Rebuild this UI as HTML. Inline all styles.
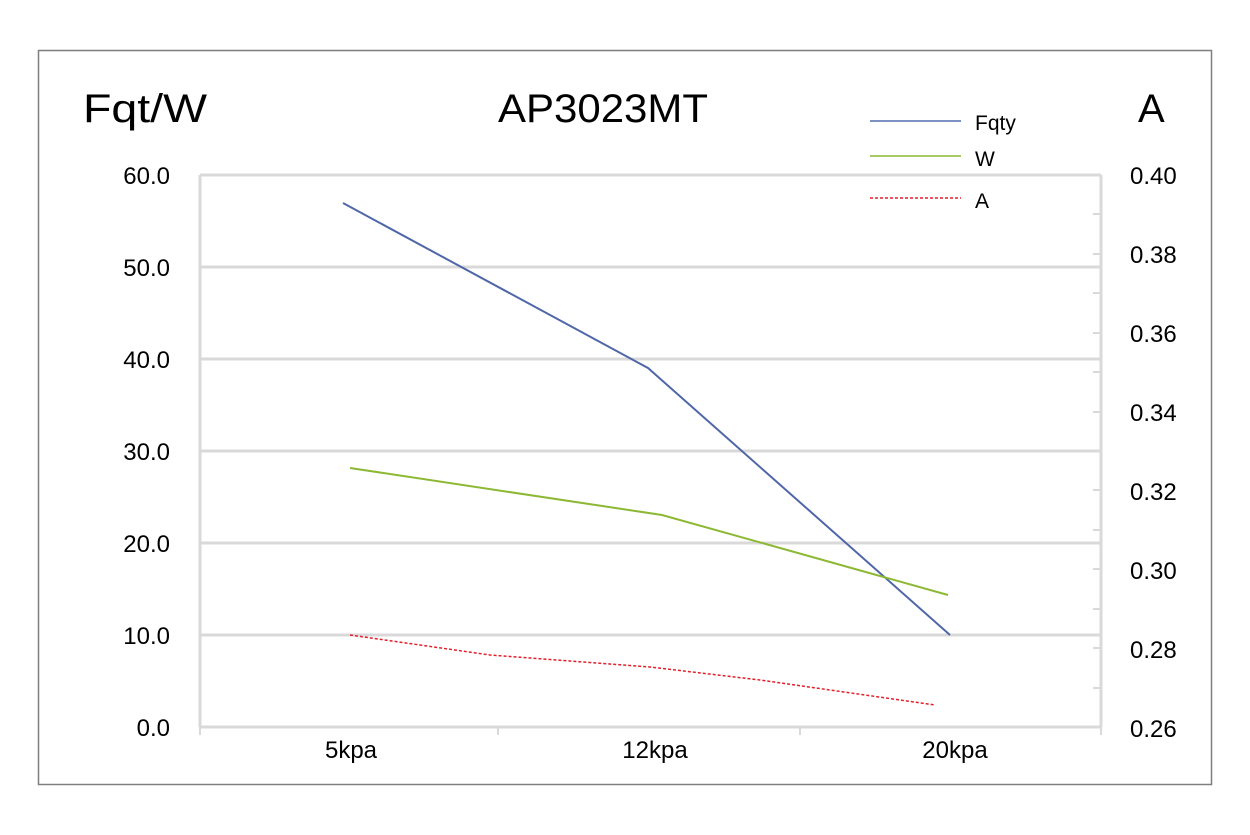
<!DOCTYPE html>
<html><head><style>body{margin:0;background:#fff}svg{display:block;font-family:"Liberation Sans","DejaVu Sans",sans-serif}</style></head>
<body>
<svg width="1250" height="835" viewBox="0 0 1250 835">
<rect x="38.5" y="50.5" width="1173" height="734" fill="#fff" stroke="#7f7f7f" stroke-width="1.5"/>
<g stroke="#d9d9d9" stroke-width="3">
<line x1="200" y1="175" x2="1101" y2="175"/>
<line x1="200" y1="267" x2="1101" y2="267"/>
<line x1="200" y1="359" x2="1101" y2="359"/>
<line x1="200" y1="451" x2="1101" y2="451"/>
<line x1="200" y1="543" x2="1101" y2="543"/>
<line x1="200" y1="635" x2="1101" y2="635"/>
<line x1="200" y1="727" x2="1101" y2="727"/>
<line x1="200" y1="175" x2="200" y2="727"/>
<line x1="1101" y1="175" x2="1101" y2="727"/>
</g>
<g stroke="#d9d9d9" stroke-width="2">
<line x1="1093" y1="214" x2="1101" y2="214"/><line x1="1093" y1="254" x2="1101" y2="254"/>
<line x1="1093" y1="293" x2="1101" y2="293"/><line x1="1093" y1="333" x2="1101" y2="333"/>
<line x1="1093" y1="372" x2="1101" y2="372"/><line x1="1093" y1="412" x2="1101" y2="412"/>
<line x1="1093" y1="451" x2="1101" y2="451"/><line x1="1093" y1="490" x2="1101" y2="490"/>
<line x1="1093" y1="530" x2="1101" y2="530"/><line x1="1093" y1="569" x2="1101" y2="569"/>
<line x1="1093" y1="609" x2="1101" y2="609"/><line x1="1093" y1="648" x2="1101" y2="648"/>
<line x1="1093" y1="688" x2="1101" y2="688"/>
<line x1="498" y1="727" x2="498" y2="735"/><line x1="800" y1="727" x2="800" y2="735"/>
<line x1="200" y1="727" x2="200" y2="735"/><line x1="1101" y1="727" x2="1101" y2="735"/>
</g>
<polyline points="343,203 648,368 950,635" fill="none" stroke="#4f67a8" stroke-width="2"/>
<polyline points="350,468 662,515 948,595" fill="none" stroke="#8cb833" stroke-width="2"/>
<polyline points="350,635 490,655 650,667 760,680 935,705" fill="none" stroke="#e0202a" stroke-width="1.5" stroke-dasharray="3,2"/>
<line x1="870" y1="121" x2="961" y2="121" stroke="#7d90c4" stroke-width="2"/>
<line x1="870" y1="156" x2="961" y2="156" stroke="#8cb833" stroke-width="1.5"/>
<line x1="870" y1="198" x2="961" y2="198" stroke="#e0202a" stroke-width="1.5" stroke-dasharray="3,2"/>
<g font-size="21" fill="#000">
<text x="975" y="130">Fqty</text><text x="975" y="166">W</text><text x="975" y="208">A</text>
</g>
<g font-size="24" fill="#000" text-anchor="end">
<text x="170" y="184">60.0</text><text x="170" y="276">50.0</text><text x="170" y="368">40.0</text>
<text x="170" y="460">30.0</text><text x="170" y="552">20.0</text><text x="170" y="644">10.0</text>
<text x="170" y="736">0.0</text>
</g>
<g font-size="24" fill="#000">
<text x="1130" y="184">0.40</text><text x="1130" y="263">0.38</text><text x="1130" y="342">0.36</text>
<text x="1130" y="421">0.34</text><text x="1130" y="500">0.32</text><text x="1130" y="579">0.30</text>
<text x="1130" y="658">0.28</text><text x="1130" y="737">0.26</text>
</g>
<g font-size="24" fill="#000" text-anchor="middle">
<text x="351" y="758">5kpa</text><text x="655" y="758">12kpa</text><text x="955" y="758">20kpa</text>
</g>
<text x="83" y="122" font-size="40" textLength="124" lengthAdjust="spacingAndGlyphs">Fqt/W</text>
<text x="498" y="122" font-size="40" textLength="210" lengthAdjust="spacingAndGlyphs">AP3023MT</text>
<text x="1138" y="122" font-size="40">A</text>
</svg>
</body></html>
